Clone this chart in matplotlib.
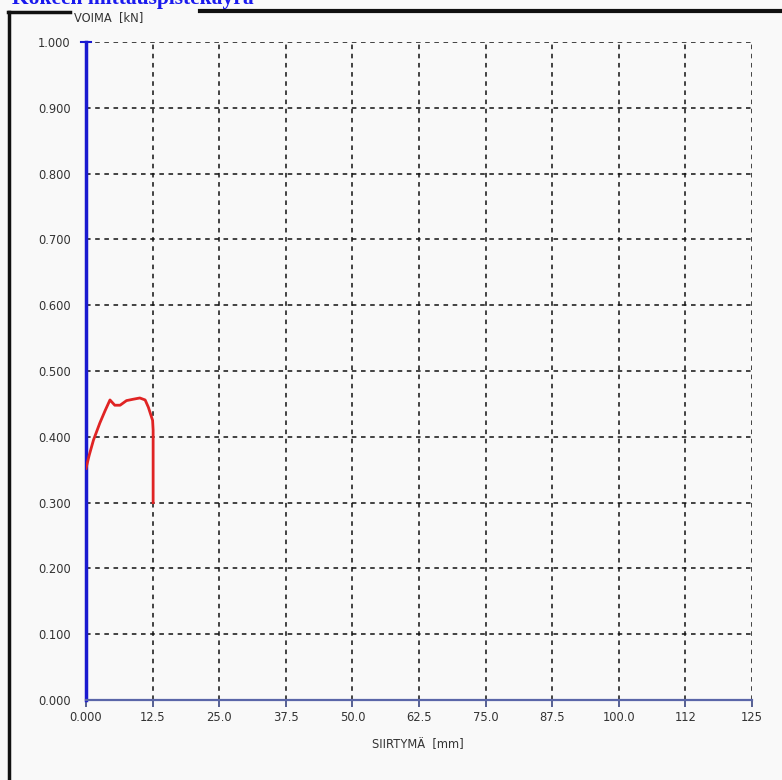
import matplotlib.pyplot as plt
from matplotlib.lines import Line2D

# mittauspisteet: siirtymä [mm], voima [kN]
siirtyma = [0.0, 0.6, 1.4, 2.6, 3.6, 4.5, 5.4, 6.4, 7.6, 8.8, 10.1, 11.1, 11.7, 12.5, 12.6, 12.6]
voima = [0.352, 0.372, 0.395, 0.421, 0.440, 0.456, 0.448, 0.448, 0.455, 0.457, 0.459, 0.456, 0.445, 0.425, 0.410, 0.300]

x_ticks = [0.0, 12.5, 25.0, 37.5, 50.0, 62.5, 75.0, 87.5, 100.0, 112.5, 125.0]
x_labels = ["0.000", "12.5", "25.0", "37.5", "50.0", "62.5", "75.0", "87.5", "100.0", "112", "125"]
y_ticks = [0.0, 0.1, 0.2, 0.3, 0.4, 0.5, 0.6, 0.7, 0.8, 0.9, 1.0]
y_labels = ["%.3f" % v for v in y_ticks]

W, H = 782, 780
plt.rcParams["font.family"] = ["DejaVu Sans"]

fig = plt.figure(figsize=(W / 100, H / 100), dpi=100)
fig.patch.set_facecolor("#f9f9f9")

ax = fig.add_axes([86 / W, 1 - 700 / H, (752 - 86) / W, (700 - 42) / H])
ax.set_facecolor("#f9f9f9")
ax.set_xlim(0, 125)
ax.set_ylim(0, 1.0)

# ruudukko
for xv in x_ticks[1:]:
    ax.axvline(xv, color="#111111", lw=1.1, ls=(0, (3, 3)), zorder=1)
for yv in y_ticks[1:]:
    ax.axhline(yv, color="#111111", lw=1.1, ls=(0, (3, 3)), zorder=1)

for s in ax.spines.values():
    s.set_visible(False)
ax.axvline(0, color="#1a1ad0", lw=2.5, zorder=3, clip_on=False)
ax.axhline(0, color="#5a66a8", lw=1.6, zorder=3, clip_on=False)
# pystyakselin yläpään poikkiviiva
ax.plot([-1.0, 1.0], [1.0, 1.0], color="#1a1ad0", lw=1.5, zorder=3, clip_on=False)

ax.plot(siirtyma, voima, color="#e02424", lw=2, zorder=4)

ax.set_xticks(x_ticks)
ax.set_xticklabels(x_labels)
ax.set_yticks(y_ticks)
ax.set_yticklabels(y_labels)
ax.tick_params(axis="x", direction="out", length=5, width=1.2, color="#3a4680",
               pad=3, labelsize=8.3, labelcolor="#333333")
ax.tick_params(axis="y", length=0, pad=11, labelsize=8.3, labelcolor="#333333")

fig.text(418 / W, 1 - 745 / H, "SIIRTYMÄ  [mm]", ha="center", va="center",
         fontsize=8.3, color="#333333")
fig.text(74 / W, 1 - 18 / H, "VOIMA  [kN]", ha="left", va="center",
         fontsize=8.3, color="#333333")

# ikkunan kehys
fig.add_artist(Line2D([8.5 / W, 8.5 / W], [0, 1 - 12 / H], color="#111111", lw=2.5))
fig.add_artist(Line2D([8 / W, 70 / W], [1 - 12 / H, 1 - 12 / H], color="#111111", lw=2.5))
fig.add_artist(Line2D([200 / W, 1], [1 - 11 / H, 1 - 11 / H], color="#111111", lw=3))

fig.text(12 / W, 1 - 4 / H, "Kokeen mittauspistekäyrä", ha="left", va="baseline",
         fontsize=15.5, fontweight="bold", color="#1a1aee", family=["Liberation Serif"])

fig.savefig("out.png", dpi=100, facecolor=fig.get_facecolor())
